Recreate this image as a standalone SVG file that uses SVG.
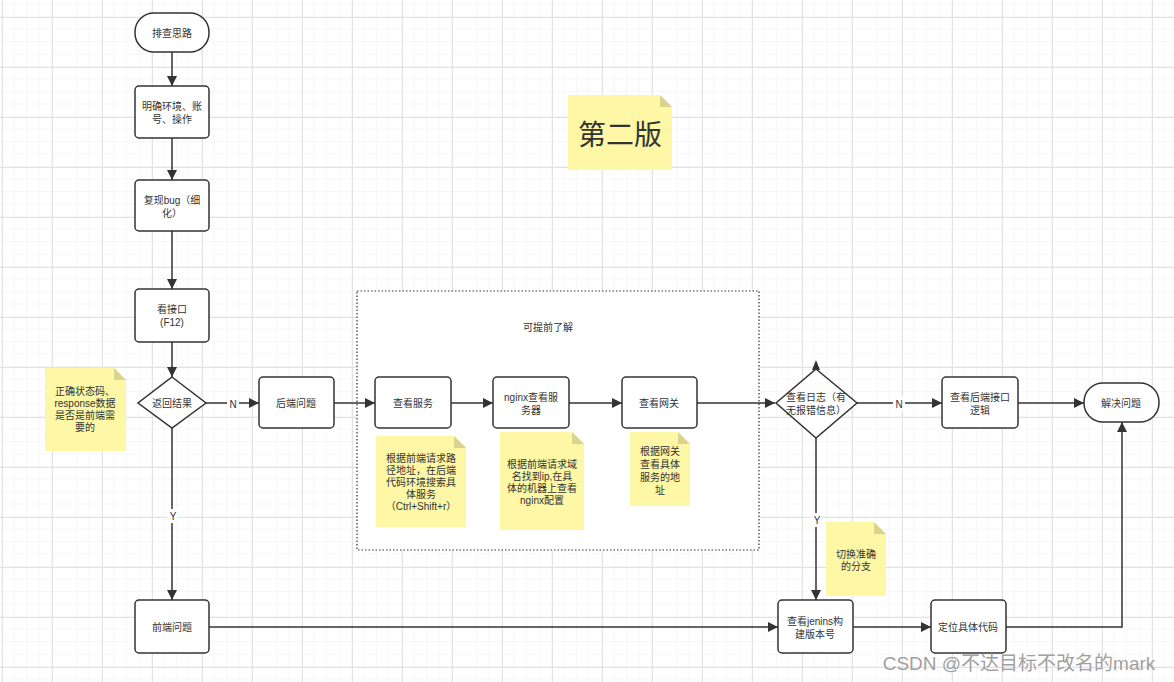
<svg xmlns="http://www.w3.org/2000/svg" width="1174" height="682" viewBox="0 0 1174 682">
<style>
text{font-family:"Liberation Sans","Noto Sans CJK SC",sans-serif;font-size:10px;fill:#333;text-anchor:middle;dominant-baseline:central}
.box{fill:#fff;stroke:#333;stroke-width:1.5}
.note{fill:#fdf7a6}
.fold{fill:#d8d48e}
.line{fill:none;stroke:#333;stroke-width:1.5}
.lbl{fill:#fff}
</style>
<defs>
<pattern id="minor" width="12.5" height="12.5" patternUnits="userSpaceOnUse" x="2" y="4.5">
<path d="M12.5 0V12.5M0 12.5H12.5" fill="none" stroke="#f0f0f0" stroke-width="1"/>
</pattern>
<pattern id="major" width="50" height="50" patternUnits="userSpaceOnUse" x="2" y="17">
<path d="M0.5 0V50M0 0.5H50" fill="none" stroke="#e2e2e2" stroke-width="1"/>
</pattern>
<marker id="arr" viewBox="0 0 10 10" refX="10" refY="5" markerWidth="10" markerHeight="10" markerUnits="userSpaceOnUse" orient="auto">
<path d="M0 0L10 5L0 10Z" fill="#333"/>
</marker>
</defs>
<rect width="1174" height="682" fill="#fff"/>
<rect width="1174" height="682" fill="url(#minor)"/>
<rect width="1174" height="682" fill="url(#major)"/>

<g id="group-box">
<rect x="357" y="291" width="402" height="259" fill="#fff" stroke="#333" stroke-width="1.2" stroke-dasharray="1.5,2"/>
<text x="548" y="327">可提前了解</text>
</g>

<g id="connectors">
<path class="line" d="M172 52V86" marker-end="url(#arr)"/>
<path class="line" d="M172 138V180" marker-end="url(#arr)"/>
<path class="line" d="M172 231V289" marker-end="url(#arr)"/>
<path class="line" d="M172 342V377" marker-end="url(#arr)"/>
<path class="line" d="M206 403H259" marker-end="url(#arr)"/>
<rect class="lbl" x="227" y="397" width="12" height="14"/>
<text x="233" y="404">N</text>
<path class="line" d="M334 403H375" marker-end="url(#arr)"/>
<path class="line" d="M451 403H493" marker-end="url(#arr)"/>
<path class="line" d="M569 403H622" marker-end="url(#arr)"/>
<path class="line" d="M697 403H775" marker-end="url(#arr)"/>
<path class="line" d="M857 403H942" marker-end="url(#arr)"/>
<rect class="lbl" x="893" y="397" width="12" height="14"/>
<text x="899" y="404">N</text>
<path class="line" d="M1018 403H1084" marker-end="url(#arr)"/>
<path class="line" d="M172 428V600" marker-end="url(#arr)"/>
<rect class="lbl" x="167" y="509" width="11" height="14"/>
<text x="173" y="516">Y</text>
<path class="line" d="M816 438V600" marker-end="url(#arr)"/>
<rect class="lbl" x="811" y="513" width="11" height="14"/>
<text x="817" y="520">Y</text>
<path class="line" d="M209 627H778" marker-end="url(#arr)"/>
<path class="line" d="M853 627H931" marker-end="url(#arr)"/>
<path class="line" d="M1006 627H1122V422" marker-end="url(#arr)"/>
<path d="M812 370L816 360L820 370Z" fill="#333"/>
</g>

<g id="n-start">
<rect class="box" x="135" y="13" width="74" height="39" rx="19"/>
<text x="172" y="33">排查思路</text>
</g>
<g id="n-env">
<rect class="box" x="135" y="86" width="74" height="52" rx="4"/>
<text x="172" y="106">明确环境、账<tspan x="172" dy="13">号、操作</tspan></text>
</g>
<g id="n-repro">
<rect class="box" x="135" y="180" width="74" height="51" rx="4"/>
<text x="172" y="200">复现bug（细<tspan x="172" dy="13">化）</tspan></text>
</g>
<g id="n-api">
<rect class="box" x="135" y="289" width="74" height="53" rx="4"/>
<text x="172" y="309">看接口<tspan x="172" dy="13">(F12)</tspan></text>
</g>
<g id="n-result">
<path class="box" d="M172 377L206 403L172 428L138 403Z"/>
<text x="172" y="403">返回结果</text>
</g>
<g id="note-status">
<path class="note" d="M45 368H114L126 380V451H45Z"/>
<path class="fold" d="M114 368L126 380H114Z"/>
<text x="85" y="391">正确状态码、<tspan x="85" dy="12">response数据</tspan><tspan x="85" dy="12">是否是前端需</tspan><tspan x="85" dy="12">要的</tspan></text>
</g>
<g id="n-backend">
<rect class="box" x="259" y="377" width="75" height="51" rx="4"/>
<text x="296" y="403">后端问题</text>
</g>
<g id="n-service">
<rect class="box" x="375" y="377" width="76" height="51" rx="4"/>
<text x="413" y="403">查看服务</text>
</g>
<g id="note-service">
<path class="note" d="M376 436H454L466 448V527H376Z"/>
<path class="fold" d="M454 436L466 448H454Z"/>
<text x="421" y="458">根据前端请求路<tspan x="421" dy="12">径地址，在后端</tspan><tspan x="421" dy="12">代码环境搜索具</tspan><tspan x="421" dy="12">体服务</tspan><tspan x="421" dy="12">（Ctrl+Shift+r）</tspan></text>
</g>
<g id="n-nginx">
<rect class="box" x="493" y="377" width="76" height="51" rx="4"/>
<text x="531" y="397">nginx查看服<tspan x="531" dy="13">务器</tspan></text>
</g>
<g id="note-nginx">
<path class="note" d="M500 432H572L584 444V530H500Z"/>
<path class="fold" d="M572 432L584 444H572Z"/>
<text x="542" y="464">根据前端请求域<tspan x="542" dy="12">名找到ip,在具</tspan><tspan x="542" dy="12">体的机器上查看</tspan><tspan x="542" dy="12">nginx配置</tspan></text>
</g>
<g id="n-gateway">
<rect class="box" x="622" y="377" width="75" height="51" rx="4"/>
<text x="659" y="403">查看网关</text>
</g>
<g id="note-gateway">
<path class="note" d="M630 432H678L690 444V506H630Z"/>
<path class="fold" d="M678 432L690 444H678Z"/>
<text x="660" y="451">根据网关<tspan x="660" dy="13">查看具体</tspan><tspan x="660" dy="13">服务的地</tspan><tspan x="660" dy="13">址</tspan></text>
</g>
<g id="n-log">
<path class="box" d="M816 369L857 403L816 438L776 403Z"/>
<text x="816" y="397">查看日志（有<tspan x="816" dy="13">无报错信息）</tspan></text>
</g>
<g id="n-backend-logic">
<rect class="box" x="942" y="377" width="76" height="51" rx="4"/>
<text x="980" y="397">查看后端接口<tspan x="980" dy="13">逻辑</tspan></text>
</g>
<g id="n-solve">
<rect class="box" x="1084" y="383" width="75" height="39" rx="19"/>
<text x="1121" y="403">解决问题</text>
</g>
<g id="note-branch">
<path class="note" d="M826 522H874L886 534V596H826Z"/>
<path class="fold" d="M874 522L886 534H874Z"/>
<text x="856" y="554">切换准确<tspan x="856" dy="12">的分支</tspan></text>
</g>
<g id="n-frontend">
<rect class="box" x="135" y="600" width="74" height="53" rx="4"/>
<text x="172" y="627">前端问题</text>
</g>
<g id="n-jenkins">
<rect class="box" x="778" y="600" width="75" height="53" rx="4"/>
<text x="815" y="621">查看jenins构<tspan x="815" dy="13">建版本号</tspan></text>
</g>
<g id="n-locate">
<rect class="box" x="931" y="600" width="75" height="53" rx="4"/>
<text x="968" y="627">定位具体代码</text>
</g>
<g id="note-title">
<path class="note" d="M568 95H660L672 107V170H568Z"/>
<path class="fold" d="M660 95L672 107H660Z"/>
<text x="620" y="135" style="font-size:28px">第二版</text>
</g>
<text x="1019" y="663" style="font-size:19px;fill:#a0a0a0">CSDN @不达目标不改名的mark</text>
</svg>
